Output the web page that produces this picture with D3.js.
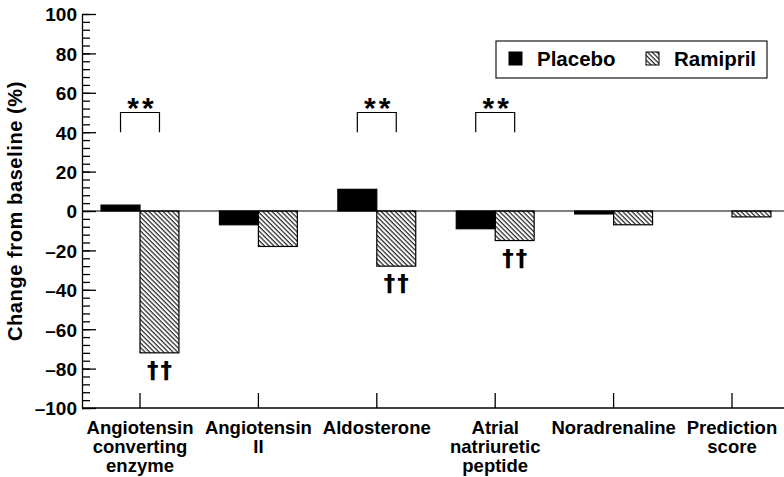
<!DOCTYPE html>
<html>
<head>
<meta charset="utf-8">
<script src="https://cdn.jsdelivr.net/npm/d3@7"></script>
<style>
  body { margin: 0; background: #fff; }
  svg { display: block; font-family: "Liberation Sans", Arial, sans-serif; }
  .axis path, .axis line { stroke: #000; stroke-width: 1.3; }
  .axis text { font-size: 19px; font-weight: bold; fill: #000; }
</style>
</head>
<body>
<svg id="chart"></svg>
<script>
// Data
const categories = ["Angiotensin converting enzyme", "Angiotensin II", "Aldosterone",
  "Atrial natriuretic peptide", "Noradrenaline", "Prediction score"];
const categoryLines = [["Angiotensin", "converting", "enzyme"], ["Angiotensin", "II"], ["Aldosterone"],
  ["Atrial", "natriuretic", "peptide"], ["Noradrenaline"], ["Prediction", "score"]];
const seriesNames = ["Placebo", "Ramipril"];
const placeboValues = [3, -7, 11, -9, -1.5, 0];
const ramiprilValues = [-72, -18, -28, -15, -7, -3];
const yTickValues = [-100, -80, -60, -40, -20, 0, 20, 40, 60, 80, 100];
const bracketCategories = ["Angiotensin converting enzyme", "Aldosterone", "Atrial natriuretic peptide"];
const bracketRange = [40, 50];
const daggerCategories = ["Angiotensin converting enzyme", "Aldosterone", "Atrial natriuretic peptide"];

const width = 784, height = 477;
const svg = d3.select('#chart').attr('width', width).attr('height', height);

// hatch pattern for ramipril
const defs = svg.append('defs');
defs.append('pattern')
    .attr('id', 'hatch')
    .attr('patternUnits', 'userSpaceOnUse')
    .attr('width', 3.3)
    .attr('height', 10)
    .attr('patternTransform', 'rotate(-45)')
  .append('line')
    .attr('x1', 1).attr('y1', 0).attr('x2', 1).attr('y2', 10)
    .attr('stroke', '#000').attr('stroke-width', 1.05);

const data = categories.map((c, i) => ({category: c, Placebo: placeboValues[i], Ramipril: ramiprilValues[i]}));

const axisLeftX = 82, axisBottomY = 408, rightEdge = 784;

const x = d3.scaleBand().domain(categories).range([80.8, 791.2]);
const xSub = d3.scaleBand().domain(seriesNames).range([0, x.bandwidth()]).paddingOuter(0.52);
const y = d3.scaleLinear().domain([-100, 100]).range([axisBottomY, 14]);

const fillFor = {Placebo: '#000', Ramipril: 'url(#hatch)'};

// minor y ticks
svg.append('g')
    .attr('class', 'axis')
    .attr('transform', `translate(${axisLeftX},0)`)
    .call(d3.axisLeft(y).tickValues(d3.range(-100, 101, 4)).tickSizeInner(-8).tickSizeOuter(0).tickFormat(''))
    .call(g => g.select('.domain').remove());

// major y ticks + labels
svg.append('g')
    .attr('class', 'axis')
    .attr('transform', `translate(${axisLeftX},0)`)
    .call(d3.axisLeft(y).tickValues(yTickValues).tickSizeInner(-14).tickSizeOuter(0).tickPadding(5)
      .tickFormat(d => d < 0 ? '\u2013' + Math.abs(d) : d))
    .call(g => g.selectAll('.tick text').attr('dy', '0.36em'));

// y axis title
svg.append('text')
    .attr('transform', `translate(22,${(y(100) + y(-100)) / 2}) rotate(-90)`)
    .attr('text-anchor', 'middle')
    .style('font-size', '20px')
    .style('font-weight', 'bold')
    .style('letter-spacing', '0.6px')
    .text('Change from baseline (%)');

// x axis: ticks at category centres, pointing up
svg.append('g')
    .attr('class', 'axis')
    .attr('transform', `translate(0,${axisBottomY})`)
    .call(d3.axisBottom(x).tickSizeInner(-15).tickSizeOuter(0).tickFormat(''))
    .call(g => g.select('.domain').remove());

svg.append('line')
    .attr('x1', axisLeftX).attr('x2', rightEdge)
    .attr('y1', axisBottomY).attr('y2', axisBottomY)
    .attr('stroke', '#000').attr('stroke-width', 1.4);

// category labels
const labels = svg.append('g')
    .selectAll('text')
    .data(categories)
  .join('text')
    .attr('x', d => x(d) + x.bandwidth() / 2)
    .attr('y', 434)
    .attr('text-anchor', 'middle')
    .style('font-size', '18.5px')
    .style('font-weight', 'bold');
labels.each(function(d, i) {
  d3.select(this).selectAll('tspan')
      .data(categoryLines[i])
    .join('tspan')
      .attr('x', x(d) + x.bandwidth() / 2)
      .attr('dy', (t, j) => j === 0 ? 0 : 19)
      .text(t => t);
});

// bars
const groups = svg.append('g')
    .selectAll('g')
    .data(data)
  .join('g')
    .attr('transform', d => `translate(${x(d.category)},0)`);

groups.selectAll('rect')
    .data(d => seriesNames.map(s => ({series: s, value: d[s]})))
  .join('rect')
    .attr('x', d => xSub(d.series))
    .attr('width', xSub.bandwidth())
    .attr('y', d => y(Math.max(0, d.value)))
    .attr('height', d => Math.abs(y(d.value) - y(0)))
    .attr('fill', d => fillFor[d.series])
    .attr('stroke', '#000')
    .attr('stroke-width', 1.2);

// zero line
svg.append('line')
    .attr('x1', axisLeftX).attr('x2', rightEdge)
    .attr('y1', y(0)).attr('y2', y(0))
    .attr('stroke', '#000').attr('stroke-width', 1.1);

// significance brackets
const subCentre = s => xSub(s) + xSub.bandwidth() / 2;
const brackets = svg.append('g')
    .selectAll('g')
    .data(bracketCategories)
  .join('g')
    .attr('transform', d => `translate(${x(d)},0)`);

brackets.append('path')
    .attr('fill', 'none')
    .attr('stroke', '#000')
    .attr('stroke-width', 1.2)
    .attr('d', () => {
      const a = subCentre('Placebo'), b = subCentre('Ramipril');
      return `M${a},${y(bracketRange[0])}V${y(bracketRange[1])}H${b}V${y(bracketRange[0])}`;
    });

brackets.append('text')
    .attr('x', x.bandwidth() / 2 + 2)
    .attr('y', y(bracketRange[1]) + 5)
    .attr('text-anchor', 'middle')
    .style('font-size', '30px')
    .style('font-weight', 'bold')
    .style('letter-spacing', '3px')
    .text('**');

// daggers under ramipril bars
svg.append('g')
    .selectAll('text')
    .data(daggerCategories)
  .join('text')
    .attr('x', d => x(d) + subCentre('Ramipril') + 1)
    .attr('y', d => y(data[categories.indexOf(d)].Ramipril) + 25)
    .attr('text-anchor', 'middle')
    .style('font-family', '"DejaVu Sans", sans-serif')
    .style('font-size', '23px')
    .style('font-weight', 'bold')
    .style('letter-spacing', '2px')
    .text('††');

// legend
const legend = svg.append('g').attr('transform', 'translate(496,41)');
legend.append('rect')
    .attr('width', 271).attr('height', 37)
    .attr('fill', '#fff').attr('stroke', '#000').attr('stroke-width', 1.1);
const legendItems = legend.selectAll('g')
    .data(seriesNames)
  .join('g')
    .attr('transform', (d, i) => `translate(${i === 0 ? 13 : 150},11)`);
legendItems.append('rect')
    .attr('width', 13).attr('height', 13)
    .attr('fill', d => fillFor[d])
    .attr('stroke', '#000').attr('stroke-width', 1);
legendItems.append('text')
    .attr('x', 28).attr('y', 14)
    .style('font-size', '20.5px')
    .style('font-weight', 'bold')
    .text(d => d);
</script>
</body>
</html>
